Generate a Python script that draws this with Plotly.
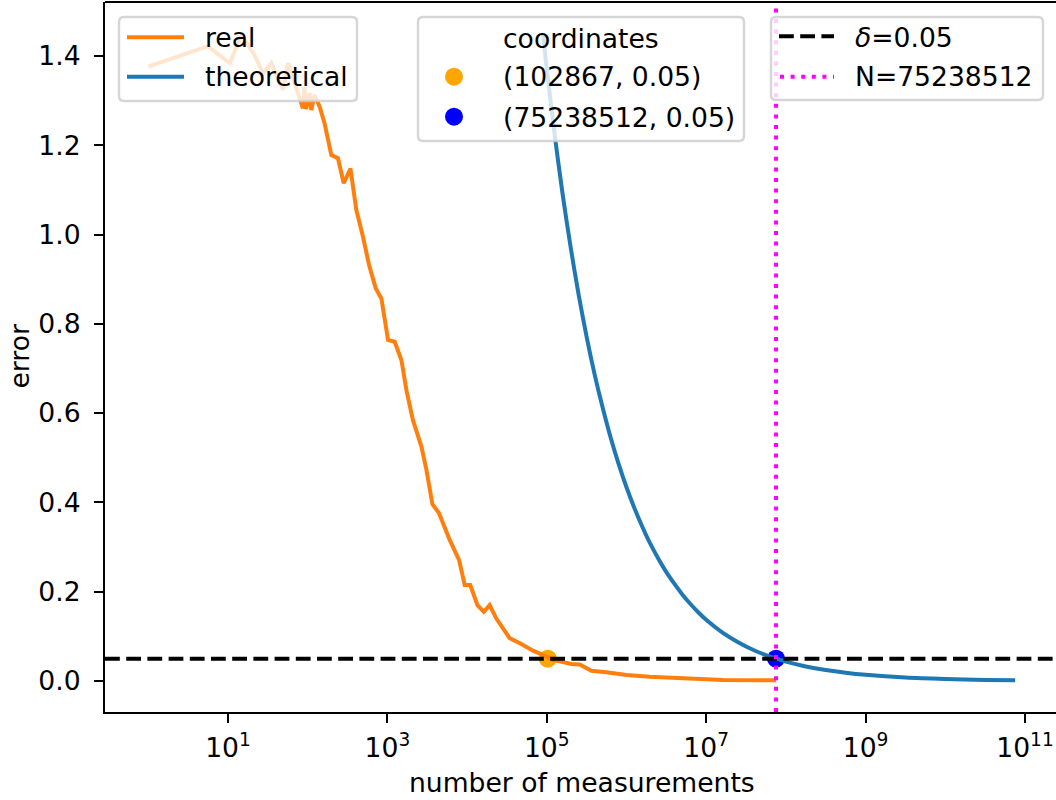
import plotly.graph_objects as go

# ---------------- data ----------------
real_n = [1, 5.6, 10.5, 14.8, 21.6, 27.5, 35.1, 49, 56.6, 68.7, 87.1, 91.2, 95.5,
          106, 111, 122, 141, 163, 198, 240, 283, 344, 408, 494, 589, 713, 841,
          1019, 1236, 1500, 1730, 2089, 2673, 3090, 3673, 4446, 6053, 7943, 9333,
          10965, 13490, 16218, 19187, 23281, 34198, 47863, 67143, 98855, 119670,
          144544, 204174, 258821, 363078, 559758, 1000000, 1949845, 6165950,
          16218101, 75238512]
real_err = [1.376, 1.422, 1.384, 1.447, 1.402, 1.361, 1.384, 1.324, 1.384, 1.339,
            1.283, 1.330, 1.281, 1.317, 1.279, 1.313, 1.287, 1.249, 1.178, 1.171,
            1.115, 1.148, 1.055, 0.995, 0.932, 0.880, 0.857, 0.764, 0.760, 0.719,
            0.652, 0.585, 0.525, 0.473, 0.396, 0.376, 0.316, 0.271, 0.215, 0.215,
            0.170, 0.155, 0.170, 0.140, 0.096, 0.083, 0.068, 0.055, 0.047, 0.044,
            0.038, 0.037, 0.023, 0.0195, 0.0134, 0.0096, 0.0045, 0.0022, 0.0016]

theo_n = [89000, 100000, 125900, 158500, 199500, 251200, 316200, 398100, 501200,
          631000, 794300, 1000000, 1259000, 1585000, 1995000, 2512000, 3162000,
          3981000, 5012000, 6310000, 7943000, 10000000, 15850000, 25120000,
          39810000, 75238512, 100000000, 177800000, 316200000, 562300000,
          1000000000, 3162000000, 10000000000, 31620000000, 75240000000]
theo_err = [1.452, 1.371, 1.222, 1.089, 0.971, 0.865, 0.771, 0.687, 0.613, 0.546,
            0.487, 0.434, 0.387, 0.345, 0.307, 0.274, 0.244, 0.218, 0.194, 0.173,
            0.154, 0.137, 0.109, 0.087, 0.069, 0.050, 0.0435, 0.0326, 0.0245,
            0.0184, 0.0138, 0.0077, 0.0044, 0.0024, 0.0016]

point_n = [102867, 75238512]
point_err = [0.05, 0.05]
point_colors = ["orange", "blue"]
point_labels = ["(102867, 0.05)", "(75238512, 0.05)"]

delta = 0.05
N_value = 75238512

y_tick_vals = [0.0, 0.2, 0.4, 0.6, 0.8, 1.0, 1.2, 1.4]
x_tick_vals = [1e1, 1e3, 1e5, 1e7, 1e9, 1e11]
x_tick_text = ["10<sup>1</sup>", "10<sup>3</sup>", "10<sup>5</sup>",
               "10<sup>7</sup>", "10<sup>9</sup>", "10<sup>11</sup>"]

# ---------------- layout geometry ----------------
W, H = 1056, 800
L, R, T, B = 105, 0, 2, 88
PW, PH = W - L - R, H - T - B
FONT = "DejaVu Sans"
FS = 26.6
LW = 4
ORANGE_LINE = "#ff7f0e"
BLUE_LINE = "#1f77b4"
DASH = "14.8px,6.4px"
DOT = "4px,6.6px"


def px(xp):
    return (xp - L) / PW


def py(yp):
    return (T + PH - yp) / PH


def rrect(x0, y0, x1, y1, r=5):
    pts = [("M", x0 + r, y0), ("L", x1 - r, y0), ("Q", x1, y0, x1, y0 + r),
           ("L", x1, y1 - r), ("Q", x1, y1, x1 - r, y1), ("L", x0 + r, y1),
           ("Q", x0, y1, x0, y1 - r), ("L", x0, y0 + r), ("Q", x0, y0, x0 + r, y0)]
    s = ""
    for p in pts:
        cmd = p[0]
        coords = p[1:]
        parts = []
        for i in range(0, len(coords), 2):
            parts.append(f"{px(coords[i]):.5f},{py(coords[i + 1]):.5f}")
        s += cmd + " ".join(parts) + " "
    return s + "Z"


fig = go.Figure()

# scatter markers (below the lines, like matplotlib zorder)
fig.add_trace(go.Scatter(x=point_n, y=point_err, mode="markers",
                         marker=dict(color=point_colors, size=18, line=dict(width=0)),
                         showlegend=False, hoverinfo="skip"))
fig.add_trace(go.Scatter(x=real_n, y=real_err, mode="lines", name="real",
                         line=dict(color=ORANGE_LINE, width=LW), showlegend=False))
fig.add_trace(go.Scatter(x=theo_n, y=theo_err, mode="lines", name="theoretical",
                         line=dict(color=BLUE_LINE, width=LW, shape="spline", smoothing=0.8),
                         showlegend=False))

shapes = []
# delta line and N line
shapes.append(dict(type="line", xref="paper", yref="y", x0=0, x1=1, y0=delta, y1=delta,
                   line=dict(color="black", width=LW, dash=DASH), layer="above"))
shapes.append(dict(type="line", xref="x", yref="paper", x0=N_value, x1=N_value, y0=0, y1=1,
                   line=dict(color="#ff00ff", width=LW, dash=DOT), layer="above"))
# top spine
shapes.append(dict(type="line", xref="paper", yref="paper", x0=0, x1=1, y0=1, y1=1,
                   line=dict(color="black", width=2.1), layer="above"))

# legend frames
frame_fill = "rgba(255,255,255,0.8)"
frame_line = dict(color="rgba(204,204,204,0.8)", width=2.4)
for (x0, y0, x1, y1) in [(119, 17, 357, 101), (418, 17, 744, 141), (771, 17, 1043, 100)]:
    shapes.append(dict(type="path", xref="paper", yref="paper", path=rrect(x0, y0, x1, y1),
                       fillcolor=frame_fill, line=frame_line, layer="above"))

# legend 1 samples
shapes.append(dict(type="line", xref="paper", yref="paper", x0=px(127), x1=px(184),
                   y0=py(37.3), y1=py(37.3), line=dict(color=ORANGE_LINE, width=LW), layer="above"))
shapes.append(dict(type="line", xref="paper", yref="paper", x0=px(127), x1=px(184),
                   y0=py(76.7), y1=py(76.7), line=dict(color=BLUE_LINE, width=LW), layer="above"))
# legend 2 markers
for cy, col in zip([76.7, 116.7], point_colors):
    shapes.append(dict(type="circle", xref="paper", yref="paper", x0=px(445), x1=px(463),
                       y0=py(cy + 9), y1=py(cy - 9), fillcolor=col, line=dict(width=0), layer="above"))
# legend 3 samples
shapes.append(dict(type="line", xref="paper", yref="paper", x0=px(779), x1=px(834),
                   y0=py(36.3), y1=py(36.3), line=dict(color="black", width=LW, dash=DASH),
                   layer="above"))
shapes.append(dict(type="line", xref="paper", yref="paper", x0=px(780), x1=px(834),
                   y0=py(76.7), y1=py(76.7), line=dict(color="#ff00ff", width=LW, dash=DOT),
                   layer="above"))

annotations = []


def txt(x, y, s, anchor="left", angle=0):
    annotations.append(dict(x=x, y=y, xref="paper", yref="paper", text=s, showarrow=False,
                            xanchor=anchor, yanchor="middle", textangle=angle,
                            font=dict(family=FONT, size=FS, color="black"), borderpad=0))


txt(px(204), py(37.5), "real")
txt(px(204), py(77), "theoretical")
txt(px(581), py(38), "coordinates", anchor="center")
txt(px(502), py(77), point_labels[0])
txt(px(502), py(117), point_labels[1])
txt(px(854), py(37), "<i>δ</i>=0.05")
txt(px(854), py(77), f"N={N_value}")
# axis titles
txt(px(582), py(782), "number of measurements", anchor="center")
txt(px(18.5), py(357), "error", anchor="center", angle=-90)

fig.update_layout(
    width=W, height=H,
    margin=dict(l=L, r=R, t=T, b=B, pad=0),
    paper_bgcolor="white", plot_bgcolor="white",
    font=dict(family=FONT, size=FS, color="black"),
    shapes=shapes, annotations=annotations,
    showlegend=False,
    xaxis=dict(type="log", range=[-0.543, 11.389], tickvals=x_tick_vals, ticktext=x_tick_text,
               showgrid=False, zeroline=False, showline=True, linecolor="black", linewidth=2.1,
               ticks="outside", ticklen=9, tickwidth=2.1, tickcolor="black",
               tickfont=dict(family=FONT, size=FS, color="black"), ticklabelstandoff=2),
    yaxis=dict(range=[-0.0694, 1.521], tickvals=y_tick_vals, tickformat=".1f",
               showgrid=False, zeroline=False, showline=True, linecolor="black", linewidth=2.1,
               ticks="outside", ticklen=9, tickwidth=2.1, tickcolor="black",
               tickfont=dict(family=FONT, size=FS, color="black"), ticklabelstandoff=8),
)

fig.write_html("out.html")
